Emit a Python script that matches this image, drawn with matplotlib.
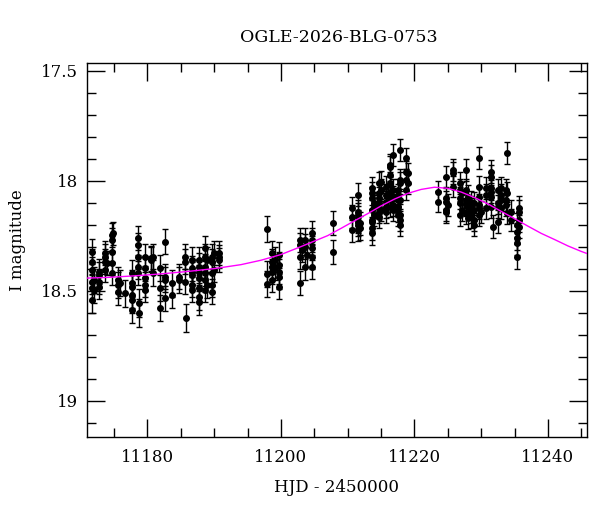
import numpy as np
import matplotlib.pyplot as plt
from matplotlib.ticker import MultipleLocator, FormatStrFormatter

# nightly OGLE I-band photometry (HJD - 2450000)
night_hjd = [11171.7, 11172.0, 11172.7, 11173.6, 11173.9, 11174.7, 11174.9,
             11175.6, 11175.9, 11176.7, 11177.7, 11178.6, 11178.8, 11179.7,
             11180.6, 11180.9, 11181.9, 11182.7, 11183.7, 11184.8, 11185.6,
             11185.8, 11186.6, 11187.7, 11188.6, 11188.9, 11189.6, 11190.0,
             11190.7,
             11197.9, 11198.7, 11199.1, 11199.7, 11202.8, 11203.2, 11203.6,
             11203.9, 11204.7, 11207.8,
             11210.7, 11211.6, 11211.9, 11213.6, 11213.9, 11214.7, 11215.0,
             11215.7, 11216.4, 11216.8, 11217.5, 11217.9, 11218.8, 11219.1,
             11223.5, 11224.7, 11225.0, 11225.7, 11226.8, 11227.1, 11227.7,
             11228.0, 11228.5, 11228.9, 11229.7, 11229.9, 11230.7, 11231.5,
             11231.8, 11232.5, 11233.0, 11233.7, 11233.9, 11234.5, 11235.4,
             11235.7]

night_mag = [
    [18.323, 18.368, 18.406, 18.459, 18.489, 18.542],
    [18.451, 18.497],
    [18.414, 18.429, 18.459, 18.482],
    [18.330, 18.345, 18.368, 18.406],
    [18.375],
    [18.247, 18.270, 18.323, 18.375, 18.421],
    [18.239],
    [18.451, 18.474, 18.505],
    [18.466],
    [18.512],
    [18.421, 18.466, 18.482, 18.520, 18.542, 18.588],
    [18.262, 18.292, 18.345, 18.391, 18.421],
    [18.557, 18.603],
    [18.345, 18.398, 18.444, 18.474, 18.497],
    [18.353, 18.360],
    [18.345, 18.421],
    [18.398, 18.489, 18.580],
    [18.277, 18.436, 18.451, 18.535],
    [18.466, 18.520],
    [18.436, 18.451],
    [18.345, 18.368, 18.459],
    [18.626],
    [18.360, 18.398, 18.414, 18.429, 18.474, 18.497],
    [18.360, 18.391, 18.414, 18.444, 18.489, 18.527, 18.550],
    [18.307, 18.345, 18.391, 18.421, 18.451, 18.497],
    [18.360, 18.474],
    [18.345, 18.368, 18.421, 18.474, 18.505],
    [18.330, 18.406],
    [18.330, 18.345, 18.360],
    [18.220, 18.424, 18.470],
    [18.330, 18.368, 18.391, 18.414, 18.451],
    [18.360, 18.398],
    [18.338, 18.383, 18.414, 18.436, 18.482],
    [18.270, 18.292, 18.345, 18.466],
    [18.315],
    [18.270, 18.300, 18.394],
    [18.338],
    [18.239, 18.270, 18.307, 18.345, 18.391],
    [18.191, 18.323],
    [18.126, 18.164, 18.224],
    [18.065, 18.141, 18.156, 18.186, 18.201, 18.224],
    [18.194, 18.216],
    [18.035, 18.057, 18.080, 18.133, 18.179, 18.186, 18.216, 18.239],
    [18.103, 18.118, 18.156],
    [18.012, 18.057, 18.080, 18.103, 18.125, 18.141, 18.164],
    [18.005, 18.042, 18.133],
    [18.027, 18.065, 18.095, 18.118, 18.141],
    [17.929, 17.936, 17.974, 18.012, 18.050, 18.080, 18.118],
    [17.883, 18.042, 18.073, 18.110, 18.133],
    [18.042, 18.065, 18.088, 18.118, 18.141, 18.156],
    [17.860, 17.997, 18.012, 18.088, 18.156, 18.179, 18.201],
    [17.898, 17.959, 17.997, 18.042],
    [17.966, 18.012],
    [18.050, 18.095],
    [17.982, 18.080, 18.095, 18.133, 18.141],
    [18.110],
    [17.951, 17.966, 18.027],
    [18.012, 18.042, 18.080, 18.103, 18.156],
    [18.057, 18.133],
    [17.951, 18.042, 18.088, 18.110, 18.148],
    [18.073, 18.118, 18.171],
    [18.095, 18.118, 18.141, 18.164],
    [18.103, 18.133, 18.179, 18.201],
    [17.898, 18.027, 18.073, 18.110, 18.125, 18.156],
    [18.141],
    [18.035, 18.065, 18.125],
    [17.959, 17.982, 18.035, 18.050, 18.073, 18.118],
    [18.209],
    [18.042, 18.103, 18.118, 18.186],
    [18.035, 18.065, 18.088, 18.125],
    [18.042, 18.088, 18.110],
    [17.875, 18.057, 18.148],
    [18.141, 18.179],
    [18.201, 18.232, 18.262, 18.285, 18.345],
    [18.125, 18.141, 18.179, 18.209],
]

# typical photometric error per night (mag)
night_err = [0.058, 0.060, 0.057, 0.055, 0.056, 0.053, 0.052,
             0.060, 0.058, 0.062, 0.060, 0.055, 0.064, 0.057,
             0.056, 0.058, 0.060, 0.057, 0.061, 0.058, 0.056,
             0.064, 0.057, 0.060, 0.056, 0.058, 0.057, 0.055,
             0.054,
             0.060, 0.057, 0.056, 0.058, 0.056, 0.055, 0.056,
             0.055, 0.055, 0.054,
             0.053, 0.052, 0.053, 0.052, 0.051, 0.050, 0.050,
             0.050, 0.049, 0.049, 0.049, 0.049, 0.048, 0.048,
             0.048, 0.050, 0.050, 0.049, 0.050, 0.050, 0.050,
             0.051, 0.050, 0.052, 0.050, 0.050, 0.050, 0.051,
             0.052, 0.051, 0.051, 0.050, 0.050, 0.052, 0.055,
             0.053]

# microlensing model
model_hjd = [11170, 11174, 11178, 11182, 11186, 11190, 11194, 11197, 11200,
             11203, 11205, 11207, 11209, 11211, 11213, 11215, 11217, 11219,
             11221, 11223, 11225, 11227, 11229, 11231, 11233, 11235, 11237,
             11239, 11241, 11243, 11245, 11247]
model_mag = [18.444, 18.440, 18.433, 18.424, 18.413, 18.400, 18.382, 18.362,
             18.336, 18.300, 18.275, 18.250, 18.217, 18.183, 18.150, 18.115,
             18.084, 18.058, 18.040, 18.030, 18.035, 18.052, 18.077, 18.106,
             18.140, 18.173, 18.207, 18.240, 18.268, 18.297, 18.322, 18.344]

hjd = []
mag = []
err = []
for t, ms, e in zip(night_hjd, night_mag, night_err):
    for m in ms:
        hjd.append(t)
        mag.append(m)
        err.append(e)

plt.rcParams['font.family'] = 'DejaVu Serif'

fig = plt.figure(figsize=(6, 5.12), dpi=100)
ax = fig.add_axes([86.7 / 600, 1 - 436.7 / 512, 500 / 600, 374 / 512])

ax.errorbar(hjd, mag, yerr=err, fmt='o', color='black', ms=4,
            elinewidth=1, capsize=2.5, capthick=1, zorder=2)
ax.plot(model_hjd, model_mag, color='#ff00ff', lw=1, zorder=3)

ax.set_xlim(11170.9, 11245.8)
ax.set_ylim(19.164, 17.464)

ax.xaxis.set_major_locator(MultipleLocator(20))
ax.xaxis.set_minor_locator(MultipleLocator(5))
ax.yaxis.set_major_locator(MultipleLocator(0.5))
ax.yaxis.set_minor_locator(MultipleLocator(0.1))
ax.yaxis.set_major_formatter(FormatStrFormatter('%g'))

ax.tick_params(which='both', direction='in', top=True, right=True,
               width=1, labelsize=12)
ax.tick_params(which='major', length=13)
ax.tick_params(which='minor', length=6.5)
ax.tick_params(axis='x', pad=9)
ax.tick_params(axis='y', pad=6)
for s in ax.spines.values():
    s.set_linewidth(1)

fig.text(339 / 600, 1 - 38 / 512, 'OGLE-2026-BLG-0753', ha='center',
         va='center', fontsize=12.5)
fig.text(337 / 600, 1 - 487 / 512, 'HJD - 2450000', ha='center',
         va='center', fontsize=12)
fig.text(18 / 600, 1 - 240 / 512, 'I magnitude', ha='center', va='center',
         rotation=90, fontsize=12)

fig.savefig('out.png', dpi=100)
